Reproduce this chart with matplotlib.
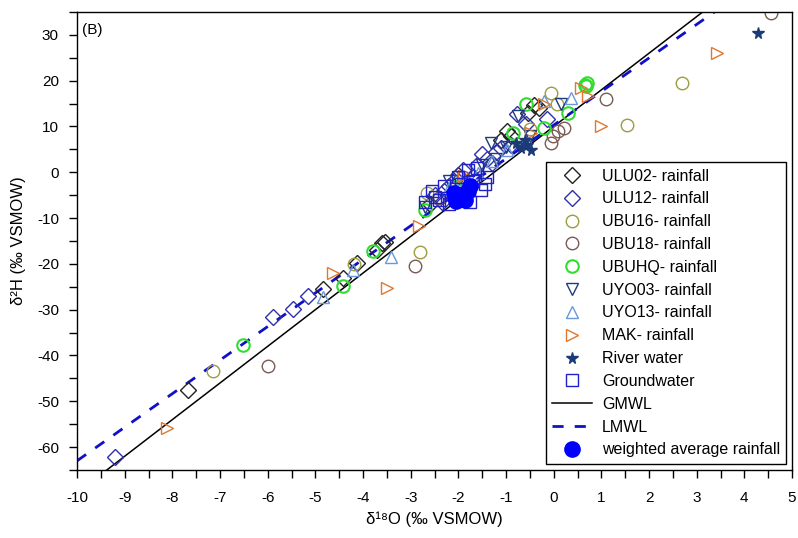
import matplotlib
matplotlib.use("Agg")
import matplotlib.pyplot as plt
import numpy as np
from matplotlib.ticker import MultipleLocator

plt.rcParams['font.family'] = ['Liberation Sans', 'DejaVu Sans']
plt.rcParams['axes.unicode_minus'] = False

# sample data (d18O, d2H)
ulu02_x = [-7.67, -4.83, -4.41, -4.12, -3.70, -3.60, -3.53, -2.60, -2.00, -0.97, -0.90, -0.53, -0.42, -0.30, -1.10]
ulu02_y = [-47.6, -25.4, -23.0, -19.8, -17.0, -15.5, -15.2, -7.0, -0.5, 9.1, 8.0, 13.0, 14.6, 14.0, 7.0]

ulu12_x = [-9.20, -5.88, -5.46, -5.15, -2.50, -2.30, -2.10, -1.90, -1.60, -1.40, -1.20, -1.11, -0.76, -0.59,
           -0.13, -1.30, -1.70, -2.20, -2.35, -1.50, -0.90]
ulu12_y = [-62.2, -31.7, -29.8, -27.1, -5.0, -4.0, -2.0, 0.5, 1.5, 3.0, 4.5, 5.2, 12.8, 10.6,
           11.7, 2.0, -1.0, -3.0, -6.5, 4.0, 6.0]

ubu16_x = [-7.14, -4.18, -2.80, -2.65, -0.06, 0.06, 1.53, 2.69, -0.50]
ubu16_y = [-43.3, -20.0, -17.4, -4.6, 17.4, 15.0, 10.4, 19.6, 9.5]

ubu18_x = [-6.00, -2.90, -2.40, -0.06, -0.02, 0.10, 0.21, 1.09, 4.56, -1.90]
ubu18_y = [-42.2, -20.5, -5.6, 6.5, 8.0, 9.1, 9.6, 16.1, 34.8, -1.0]

ubuhq_x = [-6.51, -4.41, -3.80, -2.69, -2.06, -0.86, -0.59, -0.21, 0.29, 0.67, 0.70, 0.65]
ubuhq_y = [-37.6, -24.8, -17.2, -8.3, -3.3, 8.5, 15.0, 9.6, 13.0, 18.9, 19.5, 19.0]

uyo03_x = [-2.70, -1.32, -0.74, 0.15, -1.50, -1.20, -0.50, -2.20, -1.00]
uyo03_y = [-7.5, 6.5, 12.4, 15.0, 1.5, 3.0, 8.0, -2.0, 5.5]

uyo13_x = [-4.83, -4.20, -3.42, -1.58, -0.97, 0.36, -1.90, -1.30, -2.20, -0.20]
uyo13_y = [-27.3, -21.3, -18.4, -0.2, 4.8, 16.3, -1.5, 2.5, -3.5, 15.5]

mak_x = [-8.11, -4.62, -3.49, -2.82, -1.89, -0.48, -0.21, 0.57, 0.71, 1.00, 3.42]
mak_y = [-55.9, -22.0, -25.3, -11.7, -0.7, 8.5, 15.0, 18.5, 16.7, 10.2, 26.1]

river_x = [-0.69, -0.48, -0.55, -0.80, -0.60, 4.29]
river_y = [5.2, 4.8, 5.9, 6.5, 7.0, 30.4]

gw_x = [-2.70, -2.50, -2.30, -2.00, -1.80, -1.70, -1.53, -1.60, -1.40, -2.40, -2.10, -1.90,
        -2.20, -1.75, -1.45, -2.55, -1.95]
gw_y = [-6.5, -5.5, -3.0, -1.0, 0.5, -2.0, -3.9, 1.0, -1.0, -6.0, -5.0, -4.5,
        -7.0, -6.5, -2.5, -4.0, -2.5]

wavg_x = [-1.80, -1.90, -2.00, -1.75, -2.10, -1.85, -2.05]
wavg_y = [-4.0, -5.0, -5.5, -3.0, -4.5, -6.0, -6.3]

# meteoric water lines: slope, intercept
gmwl = (8.0, 10.0)
lmwl = (7.33, 10.3)

fig = plt.figure(figsize=(7.98, 5.38), dpi=100)
ax = fig.add_axes([0.0965, 0.1264, 0.896, 0.8513])

xl = np.array([-10, 5])
ax.plot(xl, gmwl[0] * xl + gmwl[1], color='black', lw=1.1, label='GMWL', zorder=2)
ax.plot(xl, lmwl[0] * xl + lmwl[1], color='#1010c8', lw=2, ls=(0, (4, 4)), label='LMWL', zorder=2)

kw = dict(ls='none', mew=1.0, mfc='none')
ax.plot(ulu02_x, ulu02_y, marker='D', mec='#222222', ms=7.8, label='ULU02- rainfall', **kw)
ax.plot(ulu12_x, ulu12_y, marker='D', mec='#3030a8', ms=7.8, label='ULU12- rainfall', **kw)
ax.plot(ubu16_x, ubu16_y, marker='o', mec='#9c9c40', ms=9, label='UBU16- rainfall', **kw)
ax.plot(ubu18_x, ubu18_y, marker='o', mec='#7a5a55', ms=9, label='UBU18- rainfall', **kw)
ax.plot(ubuhq_x, ubuhq_y, marker='o', mec='#30dd30', mew=1.5, ls='none', ms=9, mfc='none',
        label='UBUHQ- rainfall')
ax.plot(uyo03_x, uyo03_y, marker='v', mec='#1f3c80', ms=9, label='UYO03- rainfall', **kw)
ax.plot(uyo13_x, uyo13_y, marker='^', mec='#6a98d8', ms=9, label='UYO13- rainfall', **kw)
ax.plot(mak_x, mak_y, marker='>', mec='#e07830', ms=9, label='MAK- rainfall', **kw)
ax.plot(river_x, river_y, marker='*', color='#1a3a78', ls='none', ms=8.5, label='River water')
ax.plot(gw_x, gw_y, marker='s', mec='#2020c8', ms=8.5, label='Groundwater', **kw)
ax.plot(wavg_x, wavg_y, marker='o', color='#0000ff', ls='none', ms=11, label='weighted average rainfall')

ax.set_xlim(-10, 5)
ax.set_ylim(-65, 35)
ax.xaxis.set_major_locator(MultipleLocator(1))
ax.xaxis.set_minor_locator(MultipleLocator(0.5))
ax.yaxis.set_major_locator(MultipleLocator(10))
ax.yaxis.set_minor_locator(MultipleLocator(5))
ax.tick_params(which='both', direction='out', length=6, width=1, labelsize=11)
ax.tick_params(axis='x', pad=9)
ax.tick_params(axis='y', pad=7)
for s in ax.spines.values():
    s.set_linewidth(1)

ax.set_xlabel('δ¹⁸O (‰ VSMOW)', fontsize=12, labelpad=5)
ax.set_ylabel('δ²H (‰ VSMOW)', fontsize=12, labelpad=8)
ax.text(0.007, 0.975, '(B)', transform=ax.transAxes, fontsize=11, va='top')

handles, labels = ax.get_legend_handles_labels()
order = ['ULU02- rainfall', 'ULU12- rainfall', 'UBU16- rainfall', 'UBU18- rainfall', 'UBUHQ- rainfall',
         'UYO03- rainfall', 'UYO13- rainfall', 'MAK- rainfall', 'River water', 'Groundwater',
         'GMWL', 'LMWL', 'weighted average rainfall']
hmap = dict(zip(labels, handles))
leg = ax.legend([hmap[l] for l in order], order, loc='lower right', bbox_to_anchor=(0.9945, 0.01),
                fontsize=11.5, frameon=True, fancybox=False, edgecolor='black', framealpha=1,
                handlelength=2.5, labelspacing=0.49, borderpad=0.4, handletextpad=0.6,
                borderaxespad=0.1)
leg.get_frame().set_linewidth(1)

fig.savefig('out.png', dpi=100)
